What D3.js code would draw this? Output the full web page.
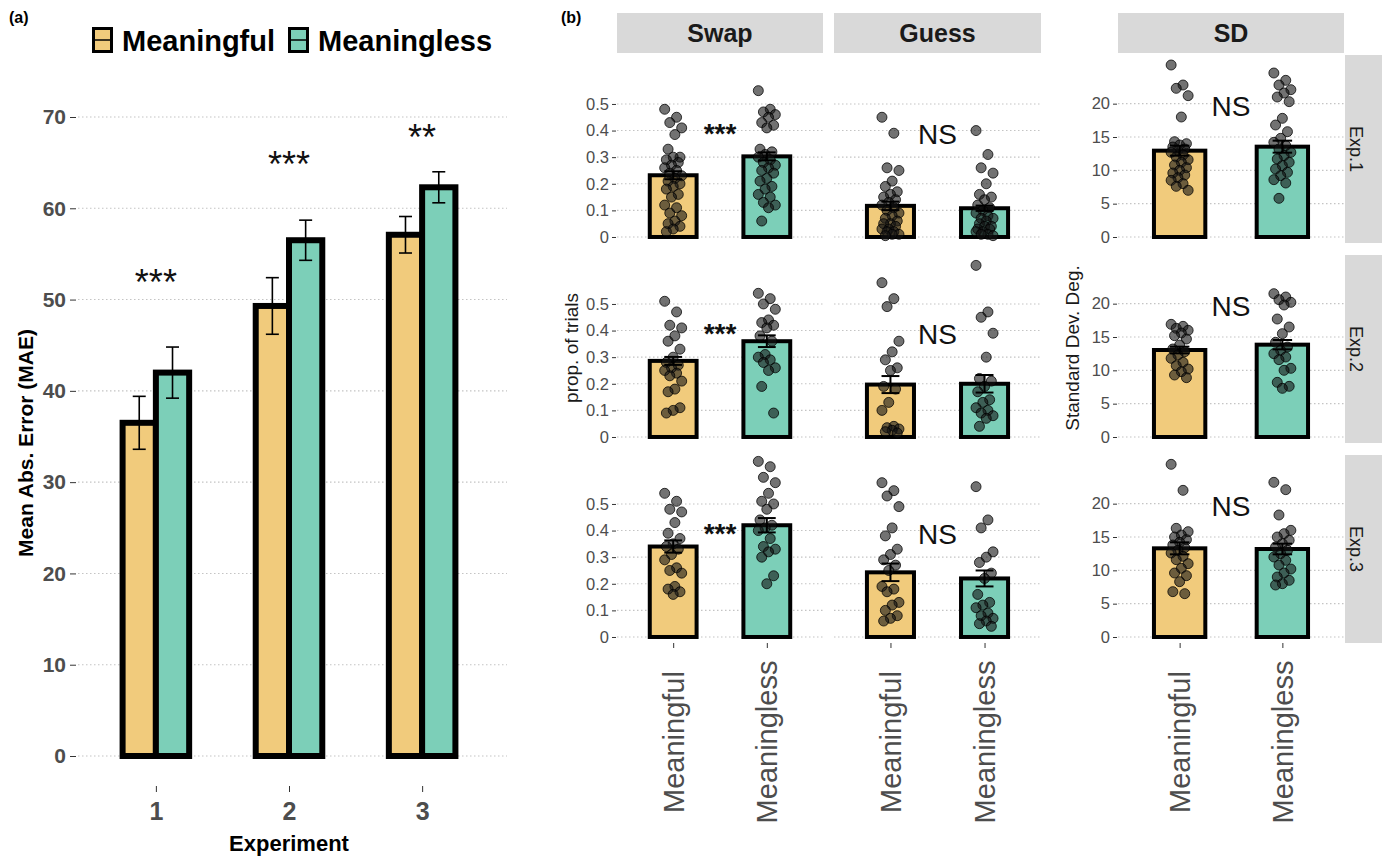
<!DOCTYPE html>
<html><head><meta charset="utf-8">
<script src="https://cdn.jsdelivr.net/npm/d3@7"></script>
<style>body{margin:0;background:#fff}svg{display:block}</style>
</head><body>
<svg id="c" width="1382" height="859"></svg>
<script>
// ---------------- DATA ----------------
const conditions = ["Meaningful", "Meaningless"];
const experiments = ["1", "2", "3"];
const maeTicks = [0, 10, 20, 30, 40, 50, 60, 70];
const maeMeaningful = [36.5, 49.3, 57.1];
const maeMeaningless = [42.0, 56.5, 62.3];
const maeSeMeaningful = [2.9, 3.1, 2.0];
const maeSeMeaningless = [2.8, 2.2, 1.7];
const sigA = ["***", "***", "**"];
const sigAValue = [52.7, 65.6, 68.6];

const paramNames = ["Swap", "Guess", "SD"];
const expLabels = ["Exp.1", "Exp.2", "Exp.3"];
const propTicks = [0, 0.1, 0.2, 0.3, 0.4, 0.5];
const sdTicks = [0, 5, 10, 15, 20];

const swapMeaningful = [0.232, 0.286, 0.340];
const swapMeaningless = [0.303, 0.360, 0.420];
const swapSeMeaningful = [0.015, 0.015, 0.023];
const swapSeMeaningless = [0.015, 0.022, 0.027];
const guessMeaningful = [0.117, 0.197, 0.243];
const guessMeaningless = [0.108, 0.200, 0.220];
const guessSeMeaningful = [0.016, 0.032, 0.033];
const guessSeMeaningless = [0.010, 0.033, 0.030];
const sdMeaningful = [12.95, 13.05, 13.3];
const sdMeaningless = [13.55, 13.85, 13.2];
const sdSeMeaningful = [0.75, 0.5, 0.9];
const sdSeMeaningless = [0.9, 0.7, 0.8];

const sigB = ["***", "NS", "NS"];
const sigBValue = [0.415, 0.387, 19.7];

// individual participants
const ptsSwapMeaningful1 = [0.48,0.45,0.43,0.41,0.385,0.33,0.30,0.30,0.29,0.28,0.27,0.26,0.25,0.24,0.23,0.22,0.21,0.20,0.19,0.18,0.16,0.15,0.12,0.11,0.09,0.08,0.06,0.05,0.04,0.03,0.02];
const ptsSwapMeaningless1 = [0.55,0.48,0.47,0.46,0.45,0.43,0.42,0.41,0.33,0.32,0.31,0.30,0.29,0.28,0.27,0.26,0.25,0.24,0.22,0.21,0.19,0.18,0.16,0.15,0.13,0.12,0.11,0.06];
const ptsGuessMeaningful1 = [0.45,0.39,0.26,0.25,0.21,0.19,0.17,0.16,0.15,0.14,0.13,0.12,0.11,0.10,0.09,0.08,0.07,0.06,0.05,0.05,0.04,0.03,0.03,0.02,0.02,0.01,0.01,0.005];
const ptsGuessMeaningless1 = [0.40,0.31,0.26,0.24,0.20,0.16,0.15,0.14,0.12,0.11,0.10,0.09,0.08,0.07,0.07,0.06,0.05,0.04,0.04,0.03,0.03,0.02,0.02,0.01,0.01,0.005];
const ptsSdMeaningful1 = [25.8,22.8,22.3,21.2,18.0,14.3,14.0,13.8,13.5,13.2,13.0,12.7,12.3,12.0,11.6,11.2,10.8,10.4,10.0,9.6,9.3,8.9,8.5,8.0,7.6,7.0];
const ptsSdMeaningless1 = [24.6,23.5,22.8,22.1,21.6,21.0,20.3,17.8,16.8,15.8,14.8,14.2,13.7,13.2,12.7,12.2,11.7,11.2,10.7,10.2,9.7,9.2,8.6,8.1,5.8];

const ptsSwapMeaningful2 = [0.51,0.47,0.42,0.41,0.38,0.36,0.33,0.30,0.28,0.27,0.26,0.25,0.24,0.23,0.21,0.18,0.17,0.11,0.10,0.09];
const ptsSwapMeaningless2 = [0.54,0.52,0.50,0.48,0.44,0.43,0.42,0.41,0.38,0.36,0.31,0.30,0.29,0.28,0.26,0.25,0.19,0.09];
const ptsGuessMeaningful2 = [0.58,0.52,0.49,0.36,0.32,0.29,0.26,0.25,0.19,0.18,0.13,0.10,0.04,0.035,0.03,0.025,0.02,0.015];
const ptsGuessMeaningless2 = [0.645,0.47,0.45,0.39,0.30,0.22,0.21,0.19,0.17,0.14,0.13,0.11,0.10,0.09,0.08,0.07,0.04];
const ptsSdMeaningful2 = [16.9,16.6,16.3,16.0,15.6,15.2,14.7,13.8,13.2,12.8,12.3,11.8,11.2,10.7,10.2,9.8,9.3,8.9];
const ptsSdMeaningless2 = [21.5,21.0,20.6,20.2,19.8,17.7,16.5,15.5,14.2,13.5,13.0,12.5,12.0,11.6,10.3,10.0,8.2,7.6,7.3];

const ptsSwapMeaningful3 = [0.54,0.51,0.48,0.47,0.43,0.39,0.37,0.35,0.34,0.33,0.31,0.29,0.26,0.25,0.24,0.19,0.18,0.17,0.16];
const ptsSwapMeaningless3 = [0.66,0.64,0.60,0.58,0.54,0.51,0.50,0.48,0.44,0.42,0.41,0.40,0.37,0.34,0.33,0.32,0.30,0.23,0.20];
const ptsGuessMeaningful3 = [0.58,0.55,0.53,0.49,0.41,0.38,0.33,0.31,0.29,0.27,0.25,0.19,0.18,0.17,0.13,0.12,0.10,0.08,0.07,0.06];
const ptsGuessMeaningless3 = [0.565,0.44,0.41,0.32,0.30,0.28,0.24,0.22,0.16,0.13,0.12,0.11,0.09,0.08,0.07,0.06,0.05,0.04];
const ptsSdMeaningful3 = [25.9,22.0,16.3,15.8,15.3,15.0,14.6,14.2,13.8,13.4,13.0,12.6,12.1,11.6,11.0,10.3,9.6,9.2,8.3,6.8,6.5];
const ptsSdMeaningless3 = [23.2,22.1,18.3,16.0,15.5,15.0,14.5,14.0,13.5,13.0,12.5,12.0,11.5,10.8,10.2,9.6,9.0,8.5,8.0,7.8];

// ---------------- LOOKUP TABLES ----------------
const barMeans = {
  Swap: [swapMeaningful, swapMeaningless],
  Guess: [guessMeaningful, guessMeaningless],
  SD: [sdMeaningful, sdMeaningless]
};
const barSe = {
  Swap: [swapSeMeaningful, swapSeMeaningless],
  Guess: [guessSeMeaningful, guessSeMeaningless],
  SD: [sdSeMeaningful, sdSeMeaningless]
};
const points = {
  Swap: [[ptsSwapMeaningful1, ptsSwapMeaningless1],[ptsSwapMeaningful2, ptsSwapMeaningless2],[ptsSwapMeaningful3, ptsSwapMeaningless3]],
  Guess: [[ptsGuessMeaningful1, ptsGuessMeaningless1],[ptsGuessMeaningful2, ptsGuessMeaningless2],[ptsGuessMeaningful3, ptsGuessMeaningless3]],
  SD: [[ptsSdMeaningful1, ptsSdMeaningless1],[ptsSdMeaningful2, ptsSdMeaningless2],[ptsSdMeaningful3, ptsSdMeaningless3]]
};

// ---------------- STYLE / LAYOUT ----------------
const FONT = '"Liberation Sans", Arial, Helvetica, sans-serif';
const condColor = d3.scaleOrdinal(conditions, ["#F1CB7C", "#7CCFB8"]);
const GRID = "#c4c4c4";
const svg = d3.select("#c").style("font-family", FONT);

function grid(g, ys, x1, x2) {
  g.selectAll(null).data(ys).join("line")
    .attr("x1", x1).attr("x2", x2).attr("y1", d => d).attr("y2", d => d)
    .attr("stroke", GRID).attr("stroke-width", 1.1).attr("stroke-dasharray", "1.5,2.5");
}

// ================= PANEL (a) =================
const gA = svg.append("g");
const xA = d3.scalePoint(experiments, [76, 502]).padding(0.6);
const yA = d3.scaleLinear([0, 70], [756, 117]);

grid(gA, maeTicks.map(yA), 78, 507);

const axA = gA.append("g").attr("transform", "translate(76,0)")
  .call(d3.axisLeft(yA).tickValues(maeTicks).tickSize(6).tickPadding(4));
axA.select(".domain").remove();
axA.selectAll("line").attr("stroke", "#333");
axA.selectAll("text").attr("font-size", 21).attr("font-weight", "bold").attr("fill", "#4d4d4d").attr("font-family", FONT);

const axAx = gA.append("g").attr("transform", "translate(0,786)")
  .call(d3.axisBottom(xA).tickSize(6).tickPadding(10));
axAx.select(".domain").remove();
axAx.selectAll("line").attr("stroke", "#333");
axAx.selectAll("text").attr("font-size", 25).attr("font-weight", "bold").attr("fill", "#4d4d4d").attr("font-family", FONT);

const barWA = xA.step() * 0.25;
const rowsA = [];
experiments.forEach((e, i) => conditions.forEach((c, j) => rowsA.push({
  exp: e, cond: c, j,
  mean: (j ? maeMeaningless : maeMeaningful)[i],
  se: (j ? maeSeMeaningless : maeSeMeaningful)[i]
})));
const cxA = d => xA(d.exp) + (d.j ? barWA / 2 : -barWA / 2);

gA.selectAll("rect.bar").data(rowsA).join("rect").attr("class", "bar")
  .attr("x", d => cxA(d) - barWA / 2).attr("y", d => yA(d.mean))
  .attr("width", barWA).attr("height", d => yA(0) - yA(d.mean))
  .attr("fill", d => condColor(d.cond)).attr("stroke", "#000").attr("stroke-width", 6);

const ebA = gA.selectAll("g.eb").data(rowsA).join("g").attr("class", "eb")
  .attr("stroke", "#000").attr("stroke-width", 1.6);
ebA.append("line").attr("x1", cxA).attr("x2", cxA).attr("y1", d => yA(d.mean - d.se)).attr("y2", d => yA(d.mean + d.se));
ebA.append("line").attr("x1", d => cxA(d) - 6.5).attr("x2", d => cxA(d) + 6.5).attr("y1", d => yA(d.mean + d.se)).attr("y2", d => yA(d.mean + d.se));
ebA.append("line").attr("x1", d => cxA(d) - 6.5).attr("x2", d => cxA(d) + 6.5).attr("y1", d => yA(d.mean - d.se)).attr("y2", d => yA(d.mean - d.se));

gA.selectAll("text.sig").data(experiments).join("text").attr("class", "sig")
  .attr("x", d => xA(d)).attr("y", (d, i) => yA(sigAValue[i]) + 20)
  .attr("text-anchor", "middle").attr("font-size", 36).attr("fill", "#111")
  .text((d, i) => sigA[i]);

gA.append("text").attr("transform", "translate(33,443) rotate(-90)")
  .attr("text-anchor", "middle").attr("font-size", 21).attr("font-weight", "bold").attr("fill", "#000")
  .text("Mean Abs. Error (MAE)");
gA.append("text").attr("x", xA("2")).attr("y", 851)
  .attr("text-anchor", "middle").attr("font-size", 22).attr("font-weight", "bold").attr("fill", "#000")
  .text("Experiment");

svg.append("text").attr("x", 9).attr("y", 23).attr("font-size", 16).attr("font-weight", "bold").text("(a)");
svg.append("text").attr("x", 561).attr("y", 23).attr("font-size", 16).attr("font-weight", "bold").text("(b)");

// legend
const legX = [92, 288];
const leg = gA.selectAll("g.leg").data(conditions).join("g").attr("class", "leg")
  .attr("transform", (d, i) => `translate(${legX[i]},0)`);
leg.append("rect").attr("x", 1.5).attr("y", 28.5).attr("width", 18).attr("height", 23)
  .attr("fill", d => condColor(d)).attr("stroke", "#000").attr("stroke-width", 3);
leg.append("line").attr("x1", 1.5).attr("x2", 19.5).attr("y1", 40).attr("y2", 40).attr("stroke", "#000").attr("stroke-width", 1.5);
leg.append("text").attr("x", 30).attr("y", 51).attr("font-size", 29).attr("font-weight", "bold").attr("fill", "#000").text(d => d);

// ================= PANEL (b) =================
const gB = svg.append("g");
const colX = { Swap: [617, 823], Guess: [834, 1041], SD: [1118, 1344] };
const rowTop = [55, 255, 455];
const rowH = 188;

// strips
paramNames.forEach(p => {
  gB.append("rect").attr("x", colX[p][0]).attr("y", 13).attr("width", colX[p][1] - colX[p][0]).attr("height", 40).attr("fill", "#d9d9d9");
  gB.append("text").attr("x", (colX[p][0] + colX[p][1]) / 2).attr("y", 33).attr("dy", "0.36em")
    .attr("text-anchor", "middle").attr("font-size", 25).attr("font-weight", "bold").attr("fill", "#1a1a1a").text(p);
});
expLabels.forEach((e, r) => {
  gB.append("rect").attr("x", 1345).attr("y", rowTop[r]).attr("width", 40).attr("height", rowH).attr("fill", "#d9d9d9");
  gB.append("text").attr("transform", `translate(1356,${rowTop[r] + rowH / 2}) rotate(90)`).attr("dy", "0.35em")
    .attr("text-anchor", "middle").attr("font-size", 18).attr("fill", "#1a1a1a").text(e);
});

const jitter = i => ((i * 7) % 11 - 5) * 1.7;

expLabels.forEach((e, r) => {
  paramNames.forEach((p, k) => {
    const isSD = p === "SD";
    const top = rowTop[r], bot = top + rowH;
    const x = d3.scalePoint(conditions, colX[p]).padding(0.6);
    const y = d3.scaleLinear(isSD ? [-0.9, 27.3] : [-0.0226, 0.684], [bot, top]);
    const ticks = isSD ? sdTicks : propTicks;
    const g = gB.append("g");
    grid(g, ticks.map(y), colX[p][0], colX[p][1]);

    if (p !== "Guess") {
      const ax = g.append("g").attr("transform", `translate(${colX[p][0] - 1},0)`)
        .call(d3.axisLeft(y).tickValues(ticks).tickSize(4).tickPadding(3)
          .tickFormat(isSD ? d3.format("d") : (d => d === 0 ? "0" : d3.format(".1f")(d))));
      ax.select(".domain").remove();
      ax.selectAll("line").attr("stroke", "#333");
      ax.selectAll("text").attr("font-size", 16.5).attr("fill", "#4d4d4d").attr("font-family", FONT);
    }
    if (r === 2) {
      const ax = g.append("g").attr("transform", `translate(0,${bot})`)
        .call(d3.axisBottom(x).tickSize(5).tickPadding(0));
      ax.select(".domain").remove();
      ax.selectAll("line").attr("stroke", "#333");
      ax.selectAll("text").attr("transform", "translate(0,99) rotate(-90)")
        .attr("x", 0).attr("y", 0).attr("dy", "0.35em").attr("text-anchor", "middle")
        .attr("font-size", 29).attr("fill", "#4d4d4d").attr("font-family", FONT);
    }

    const bw = x.step() * 0.5;
    const rows = conditions.map((c, j) => ({ c, mean: barMeans[p][j][r], se: barSe[p][j][r], pts: points[p][r][j] }));
    g.selectAll("rect.bar").data(rows).join("rect").attr("class", "bar")
      .attr("x", d => x(d.c) - bw / 2).attr("y", d => y(d.mean))
      .attr("width", bw).attr("height", d => y(0) - y(d.mean))
      .attr("fill", d => condColor(d.c)).attr("stroke", "#000").attr("stroke-width", 4);

    rows.forEach(d => {
      g.selectAll(null).data(d.pts).join("circle")
        .attr("cx", (v, i) => x(d.c) + jitter(i)).attr("cy", v => y(v)).attr("r", 5)
        .attr("fill", "rgba(20,20,20,0.6)").attr("stroke", "rgba(0,0,0,0.75)").attr("stroke-width", 1);
    });

    const cw = x.step() * 0.095;
    const eb = g.selectAll("g.eb").data(rows).join("g").attr("class", "eb").attr("stroke", "#000").attr("stroke-width", 2);
    eb.append("line").attr("x1", d => x(d.c)).attr("x2", d => x(d.c)).attr("y1", d => y(d.mean - d.se)).attr("y2", d => y(d.mean + d.se));
    eb.append("line").attr("x1", d => x(d.c) - cw).attr("x2", d => x(d.c) + cw).attr("y1", d => y(d.mean + d.se)).attr("y2", d => y(d.mean + d.se));
    eb.append("line").attr("x1", d => x(d.c) - cw).attr("x2", d => x(d.c) + cw).attr("y1", d => y(d.mean - d.se)).attr("y2", d => y(d.mean - d.se));

    const cx = (colX[p][0] + colX[p][1]) / 2;
    if (sigB[k] === "***") {
      g.append("text").attr("x", cx).attr("y", y(sigBValue[k]) + 16).attr("text-anchor", "middle")
        .attr("font-size", 28).attr("font-weight", "bold").attr("fill", "#111").text(sigB[k]);
    } else {
      g.append("text").attr("x", cx).attr("y", y(sigBValue[k]) + 10).attr("text-anchor", "middle")
        .attr("font-size", 28).attr("fill", "#111").text(sigB[k]);
    }
  });
});

gB.append("text").attr("transform", "translate(571,348) rotate(-90)").attr("dy", "0.35em")
  .attr("text-anchor", "middle").attr("font-size", 19).attr("fill", "#1a1a1a").text("prop. of trials");
gB.append("text").attr("transform", "translate(1072,348) rotate(-90)").attr("dy", "0.35em")
  .attr("text-anchor", "middle").attr("font-size", 19).attr("fill", "#1a1a1a").text("Standard Dev. Deg.");
</script>
</body></html>
